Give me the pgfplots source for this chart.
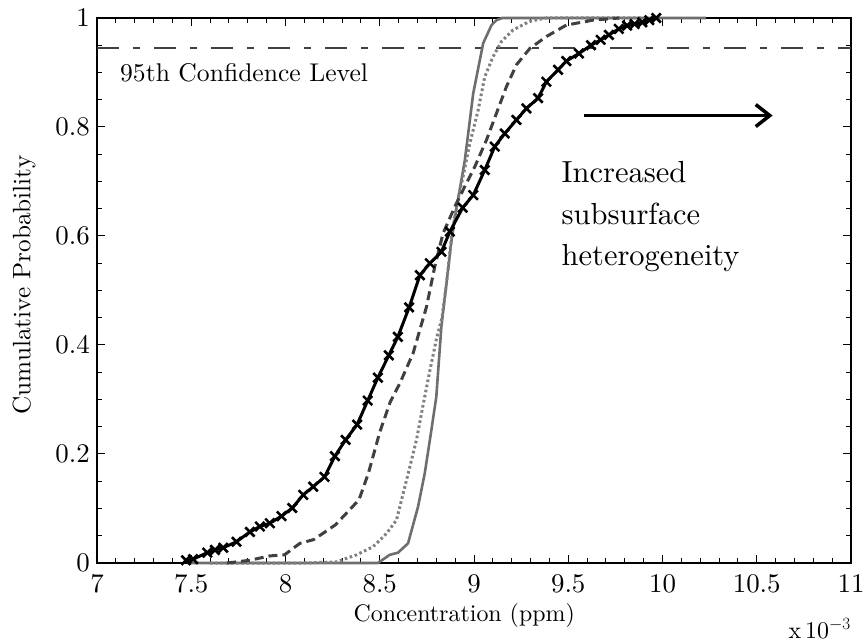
\documentclass[border=0pt]{standalone}
\usepackage{fontspec}
\setmainfont{lmroman10}[Extension=.otf, UprightFont=*-regular, BoldFont=*-bold, ItalicFont=*-italic]
\usepackage{pgfplots}
\pgfplotsset{compat=1.18}
\usetikzlibrary{arrows.meta}
\definecolor{solidgray}{HTML}{6E6E6E}
\definecolor{dotgray}{HTML}{808080}
\definecolor{dashgray}{HTML}{404040}
\begin{document}
\begin{tikzpicture}
\useasboundingbox (-97bp,-81bp) rectangle (768bp,563bp);
\begin{axis}[
  at={(0,0)}, anchor=south west,
  scale only axis, width=754bp, height=545bp,
  xmin=7, xmax=11, ymin=0, ymax=1,
  xtick={7,7.5,...,11}, ytick={0,0.2,...,1},
  xticklabels={7,7.5,8,8.5,9,9.5,10,10.5,11},
  yticklabels={0,0.2,0.4,0.6,0.8,1},
  /pgf/number format/assume math mode=true,
  minor x tick num=4, minor y tick num=3,
  tick align=inside,
  major tick length=8bp, minor tick length=5bp,
  every tick/.style={black, line width=1bp},
  axis line style={line width=1.2bp},
  tick label style={font=\fontsize{27}{32}\selectfont},
  xticklabel style={inner sep=0pt, yshift=-11bp},
  yticklabel style={inner ysep=0pt, inner xsep=7bp},
  clip=false,
]
% 95% line
\addplot[black!75, line width=1.1bp, dash pattern=on 22bp off 14bp on 7bp off 14bp] coordinates {(7,0.945) (11,0.945)};
% solid gray
\addplot[solidgray, line width=2.6bp] coordinates {
(7.48,0) (8.49,0) (8.553,0.015) (8.597,0.019) (8.65,0.036) (8.703,0.103)
(8.739,0.165) (8.774,0.244) (8.80,0.305) (8.827,0.434) (8.854,0.513)
(8.881,0.593) (8.907,0.651) (8.951,0.738) (8.996,0.862) (9.049,0.954)
(9.093,0.987) (9.119,0.996) (9.15,1.0) (10.23,1.0)};
% dotted gray
\addplot[dotgray, line width=3bp, dash pattern=on 2.6bp off 2.6bp] coordinates {
(7.60,0) (8.10,0) (8.27,0.002) (8.377,0.015) (8.465,0.030) (8.536,0.054)
(8.589,0.079) (8.642,0.152) (8.695,0.226) (8.73,0.29) (8.77,0.36)
(8.80,0.41) (8.83,0.45) (8.854,0.513) (8.881,0.599) (8.91,0.66)
(8.942,0.709) (8.978,0.770) (9.022,0.831) (9.057,0.892) (9.101,0.929)
(9.146,0.957) (9.207,0.978) (9.296,0.994) (9.384,1.0) (9.9,1.0)};
% dashed dark gray
\addplot[dashgray, line width=3bp, dash pattern=on 9bp off 5bp] coordinates {
(7.69,0) (7.81,0.005) (7.917,0.013) (7.995,0.015) (8.076,0.036) (8.15,0.043)
(8.265,0.070) (8.39,0.116) (8.44,0.165) (8.50,0.240) (8.555,0.295)
(8.607,0.330) (8.677,0.385) (8.748,0.470) (8.792,0.544) (8.836,0.605)
(8.90,0.655) (8.95,0.69) (9.004,0.727) (9.066,0.776) (9.119,0.825)
(9.172,0.874) (9.225,0.914) (9.296,0.944) (9.384,0.966) (9.49,0.987)
(9.63,0.996) (9.77,1.0)};
% black with x marks
\addplot[black, line width=3bp, mark=x, mark size=6.5bp, mark options={line width=2.6bp}] coordinates {
(7.472,0.005) (7.51,0.007) (7.585,0.019) (7.626,0.024) (7.67,0.028)
(7.74,0.039) (7.811,0.057) (7.864,0.067) (7.917,0.073) (7.979,0.086)
(8.036,0.101) (8.094,0.125) (8.147,0.140) (8.207,0.158) (8.262,0.196)
(8.319,0.226) (8.380,0.254) (8.436,0.298) (8.49,0.340) (8.548,0.381)
(8.596,0.415) (8.656,0.469) (8.713,0.528) (8.766,0.550) (8.827,0.571)
(8.872,0.608) (8.94,0.652) (8.996,0.675) (9.057,0.721) (9.110,0.764)
(9.163,0.788) (9.225,0.813) (9.278,0.834) (9.340,0.853) (9.384,0.883)
(9.446,0.905) (9.49,0.921) (9.557,0.935) (9.621,0.950) (9.672,0.960)
(9.716,0.969) (9.768,0.980) (9.812,0.986) (9.852,0.989) (9.893,0.992)
(9.93,0.996) (9.967,1.0)};
% arrow
\addplot[black, line width=3.5bp, -{Straight Barb[length=14bp,width=22bp]}] coordinates {(9.582,0.821) (10.584,0.821)};
% texts
\node[anchor=west, inner sep=0pt, font=\fontsize{25.7}{30}\selectfont] at (axis cs:7.122,0.899) {95th Confidence Level};
\node[anchor=base west, inner sep=0pt, font=\fontsize{30.6}{36}\selectfont] at (axis cs:9.464,0.698) {Increased};
\node[anchor=base west, inner sep=0pt, font=\fontsize{30.6}{36}\selectfont] at (axis cs:9.464,0.621) {subsurface};
\node[anchor=base west, inner sep=0pt, font=\fontsize{30.6}{36}\selectfont] at (axis cs:9.464,0.545) {heterogeneity};
\node[rotate=90, inner sep=0pt, font=\fontsize{25.3}{30}\selectfont] at (axis description cs:-0.0968,0.51) {Cumulative Probability};
\node[inner sep=0pt, font=\fontsize{24}{29}\selectfont] at (axis description cs:0.487,-0.097) {Concentration (ppm)};
\node[anchor=base east, inner sep=0pt, font=\fontsize{24}{29}\selectfont] at (axis description cs:1,-0.138) {x\,10$^{-3}$};
\end{axis}
\end{tikzpicture}
\end{document}
